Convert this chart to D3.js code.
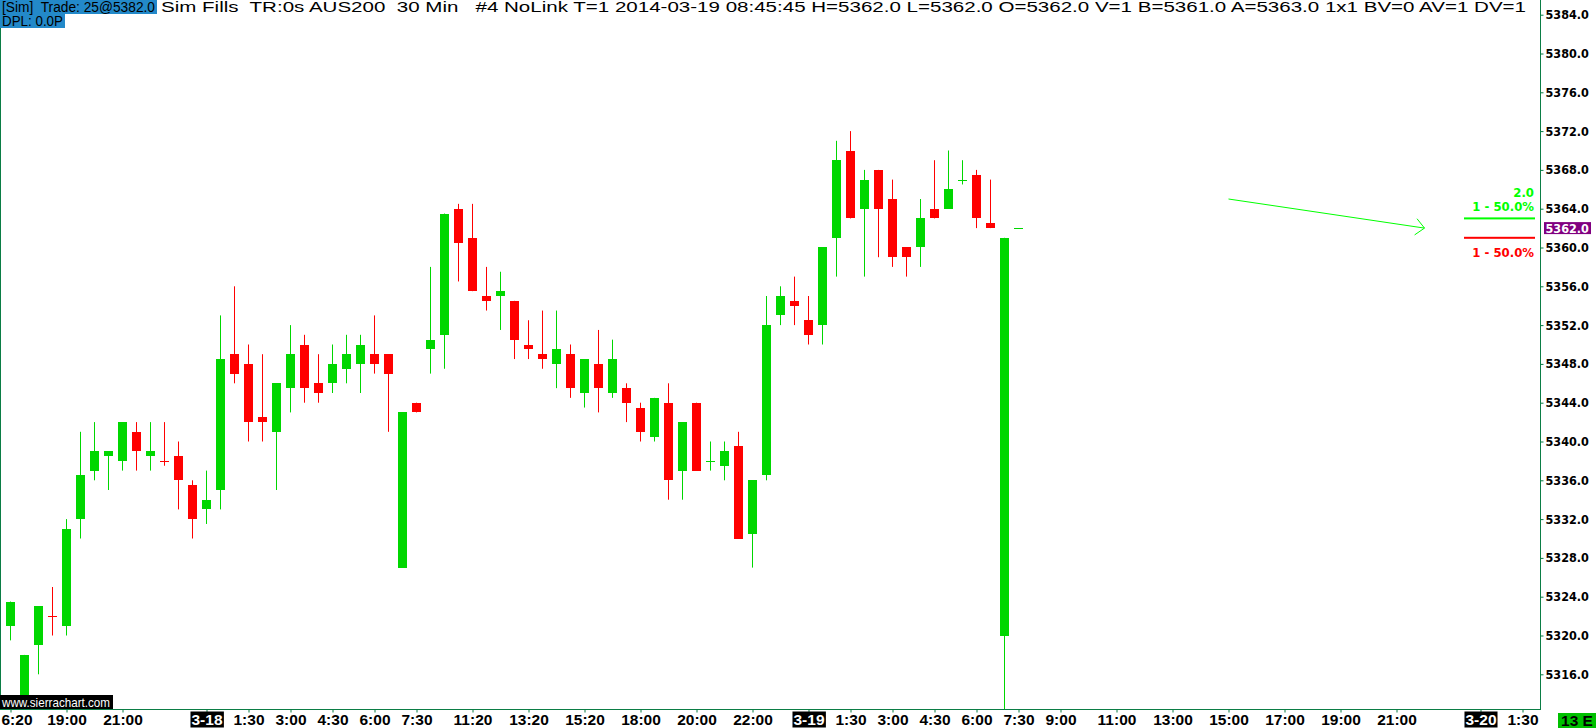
<!DOCTYPE html>
<html><head><meta charset="utf-8">
<script src="https://cdn.jsdelivr.net/npm/d3@7"></script>
<style>
html,body{margin:0;padding:0;background:#fff;overflow:hidden}
svg{display:block}
text{white-space:pre}
</style></head><body>
<svg id="c" width="1596" height="728"></svg>
<script>
// ---- data (AUS200, 30 Min bars) ----
const opens  = [5321,5313,5319,5322,5321,5332,5337,5338.5,5338,5341,5338.5,5338,5338.5,5335.5,5333,5335,5349,5348,5342.5,5341,5345.5,5350,5346,5346,5347.5,5348,5349,5349,5327,5344,5349.5,5351,5364,5361,5355,5355,5354.5,5350,5349,5348,5349,5345,5348,5345,5345.5,5343.5,5340.5,5344,5337,5344,5338,5337.5,5339.5,5330.5,5336.5,5353,5354.5,5352.5,5352,5361,5370,5364,5368,5365,5360,5360,5364,5364,5367,5367.5,5362.5,5320,5362];
const highs  = [5323.5,5318,5323,5325,5332,5341,5342,5339,5342,5342,5342,5342,5340,5336,5337,5353,5356,5350,5349,5346,5352,5351,5349,5350,5351,5351,5353,5349,5343,5344,5358,5363.5,5364.5,5364.5,5358,5357.5,5354.5,5352.5,5353.5,5353.5,5350,5348.5,5351.5,5350.5,5346,5344,5344.5,5346,5342,5344,5340,5340,5341,5336,5355,5356,5357,5355,5360,5371,5372,5368,5368,5367,5360,5365,5369,5370,5369,5368,5367,5361,5362];
const lows   = [5319.5,5312,5316,5320,5320,5330,5336,5335,5337,5337,5337,5337.5,5333,5330,5331.5,5333,5346,5340,5340,5335,5343,5344,5344,5345,5346,5345,5347,5341,5327,5343,5347,5347.5,5356.5,5355.5,5353.5,5351.5,5348.5,5348.5,5347.5,5345.5,5344.5,5343.5,5343,5344.5,5342,5340,5340,5334,5334,5337,5337,5336,5330,5327,5336,5352,5352,5350,5350,5357,5363,5357,5359,5358,5357,5358,5363,5364,5366.5,5362,5362,5312,5362];
const closes = [5323.5,5318,5323,5322,5331,5336.5,5339,5339,5342,5339,5339,5338,5336,5332,5334,5348.5,5347,5342,5342,5346,5349,5345.5,5345,5348,5349,5350,5348,5347,5343,5343,5350.5,5363.5,5360.5,5355.5,5354.5,5355.5,5350.5,5349.5,5348.5,5349.5,5345.5,5348.5,5345.5,5348.5,5344,5341,5344.5,5336,5342,5337,5338,5339,5330,5336,5352,5355,5354,5351,5360,5369,5363,5367,5364,5359,5359,5363,5363,5366,5367,5363,5362,5361,5362];

const xTickIndex  = [0,4,8,14,17,20,23,26,29,33,37,41,45,49,53,57,60,63,66,69,72,75,79,83,87,91,95,99,105,108];
const xTickLabels = ["6:20","19:00","21:00","3-18","1:30","3:00","4:30","6:00","7:30","11:20","13:20","15:20","18:00","20:00","22:00","3-19","1:30","3:00","4:30","6:00","7:30","9:00","11:00","13:00","15:00","17:00","19:00","21:00","3-20","1:30"];
const yTickValues = [5316,5320,5324,5328,5332,5336,5340,5344,5348,5352,5356,5360,5364,5368,5372,5376,5380,5384];

const lastPrice = 5362.0;
const targetPrice = 5363.0, stopPrice = 5361.0;
const arrowFrom = {i:87, p:5365}, arrowTo = {i:101, p:5362};

const headerLine1a = "[Sim]  Trade: 25@5382.0";
const headerLine1b = "Sim Fills  TR:0s AUS200  30 Min   #4 NoLink T=1 2014-03-19 08:45:45 H=5362.0 L=5362.0 O=5362.0 V=1 B=5361.0 A=5363.0 1x1 BV=0 AV=1 DV=1";
const headerLine2 = "DPL: 0.0P";

// ---- layout ----
const W = 1596, H = 728;
const plotRight = 1540, plotBottom = 709;
const GREEN = "#00d700", RED = "#ff0000", FRAME = "#0b7d45";

const svg = d3.select("#c");
svg.append("rect").attr("width", W).attr("height", H).attr("fill", "#fff");

const x = d3.scaleLinear().domain([0, 108]).range([10.5, 1522.5]);
const y = d3.scaleLinear().domain([5316, 5384]).range([674.3, 14.7]);

svg.append("clipPath").attr("id", "plotClip").append("rect")
  .attr("x", 0).attr("y", 0).attr("width", plotRight).attr("height", plotBottom);

const plot = svg.append("g").attr("clip-path", "url(#plotClip)");

const bars = d3.range(opens.length).map(i => ({
  i, o: opens[i], h: highs[i], l: lows[i], c: closes[i],
  up: closes[i] > opens[i] ? true : closes[i] < opens[i] ? false : (i === 0 || closes[i] >= closes[i-1])
}));

const bw = 9;
const cg = plot.append("g");
cg.selectAll("rect.wick").data(bars).join("rect").attr("class", "wick")
  .attr("x", d => x(d.i) - 0.5).attr("width", 1)
  .attr("y", d => y(d.h)).attr("height", d => Math.max(0, y(d.l) - y(d.h)))
  .attr("fill", d => d.up ? GREEN : RED);
cg.selectAll("rect.body").data(bars).join("rect").attr("class", "body")
  .attr("x", d => x(d.i) - bw / 2).attr("width", bw)
  .attr("y", d => Math.round(y(Math.max(d.o, d.c))))
  .attr("height", d => Math.max(1, Math.round(y(Math.min(d.o, d.c))) - Math.round(y(Math.max(d.o, d.c)))))
  .attr("fill", d => d.up ? GREEN : RED);

// arrow annotation
const ax1 = x(arrowFrom.i), ay1 = y(arrowFrom.p), ax2 = x(arrowTo.i), ay2 = y(arrowTo.p);
const ang = Math.atan2(ay2 - ay1, ax2 - ax1);
const ag = plot.append("g").attr("stroke", "#00ff00").attr("stroke-width", 1).attr("fill", "none");
ag.append("line").attr("x1", ax1).attr("y1", ay1).attr("x2", ax2).attr("y2", ay2);
[ang + Math.PI - 0.75, ang + Math.PI + 0.75].forEach(a => {
  ag.append("line").attr("x1", ax2).attr("y1", ay2)
    .attr("x2", ax2 + 12 * Math.cos(a)).attr("y2", ay2 + 12 * Math.sin(a));
});

// target / stop lines
const tl = svg.append("g");
tl.append("rect").attr("x", 1464).attr("width", 71).attr("y", y(targetPrice) - 1).attr("height", 2).attr("fill", "#00ff00");
tl.append("rect").attr("x", 1464).attr("width", 71).attr("y", y(stopPrice) - 1).attr("height", 2).attr("fill", "#ff0000");
const tf = "DejaVu Sans Condensed, sans-serif";
tl.append("text").attr("x", 1534).attr("y", y(targetPrice) - 26).attr("text-anchor", "end").attr("dominant-baseline", "central")
  .attr("font-family", tf).attr("font-weight", "bold").attr("font-size", 13).attr("fill", "#00ff00").text("2.0");
tl.append("text").attr("x", 1534).attr("y", y(targetPrice) - 12).attr("text-anchor", "end").attr("dominant-baseline", "central")
  .attr("font-family", tf).attr("font-weight", "bold").attr("font-size", 13).attr("fill", "#00ff00").text("1 - 50.0%");
tl.append("text").attr("x", 1534).attr("y", y(stopPrice) + 15).attr("text-anchor", "end").attr("dominant-baseline", "central")
  .attr("font-family", tf).attr("font-weight", "bold").attr("font-size", 13).attr("fill", "#ff0000").text("1 - 50.0%");

// frame
svg.append("rect").attr("x", 0).attr("y", 0).attr("width", 1).attr("height", plotBottom).attr("fill", FRAME);
svg.append("rect").attr("x", plotRight).attr("y", 0).attr("width", 1).attr("height", plotBottom + 1).attr("fill", FRAME);
svg.append("rect").attr("x", 0).attr("y", plotBottom).attr("width", plotRight + 1).attr("height", 1).attr("fill", FRAME);

// y axis
const yAxis = d3.axisRight(y).tickValues(yTickValues).tickFormat(d => d.toFixed(1)).tickSize(3).tickPadding(2);
const yg = svg.append("g").attr("transform", `translate(${plotRight + 0.5},0)`).call(yAxis);
yg.select(".domain").remove();
yg.selectAll(".tick line").attr("stroke", FRAME);
yg.selectAll(".tick text").attr("font-family", tf).attr("font-weight", "bold").attr("font-size", 12.5).attr("fill", "#000");

// last price box
const lp = svg.append("g");
lp.append("rect").attr("x", 1544).attr("y", y(lastPrice) - 6).attr("width", 47).attr("height", 12).attr("fill", "#800080");
lp.append("text").attr("x", 1545.5).attr("y", y(lastPrice)).attr("dominant-baseline", "central")
  .attr("font-family", tf).attr("font-weight", "bold").attr("font-size", 12.5).attr("fill", "#fff").text(lastPrice.toFixed(1));

// x axis
const xf = "Liberation Sans Narrow, sans-serif";
const xAxis = d3.axisBottom(x).tickValues(xTickIndex).tickFormat((d, k) => xTickLabels[k]).tickSize(3).tickPadding(3);
const xg = svg.append("g").attr("transform", `translate(0,${plotBottom + 0.5})`).call(xAxis);
xg.select(".domain").remove();
xg.selectAll(".tick line").attr("stroke", FRAME);
xg.selectAll(".tick text").attr("font-family", xf).attr("font-weight", "bold").attr("font-size", 15.5).attr("fill", "#000")
  .attr("dy", null).attr("y", 9.5).attr("dominant-baseline", "central");
xg.selectAll(".tick").each(function(d, k) {
  const t = d3.select(this).select("text");
  const bb = t.node().getBBox();
  const tx = x(d) + bb.x;
  if (tx < 1) t.attr("x", 1 - tx);
  if (xTickLabels[k].includes("-")) {
    d3.select(this).insert("rect", "text").attr("x", bb.x - 1).attr("y", 2).attr("width", bb.width + 2).attr("height", 16).attr("fill", "#000");
    t.attr("fill", "#fff");
  }
});

// bottom-right box
svg.append("rect").attr("x", 1558).attr("y", 713).attr("width", 38).attr("height", 15).attr("fill", "#00c000");
svg.append("text").attr("x", 1577).attr("y", 720.5).attr("text-anchor", "middle").attr("dominant-baseline", "central")
  .attr("font-family", xf).attr("font-weight", "bold").attr("font-size", 15.5).attr("fill", "#000").text("13 E");

// watermark
svg.append("rect").attr("x", 0).attr("y", 695).attr("width", 113).attr("height", 14).attr("fill", "#000");
svg.append("text").attr("x", 2).attr("y", 702).attr("dominant-baseline", "central")
  .attr("font-family", xf).attr("font-size", 13).attr("fill", "#fff").attr("textLength", 108).attr("lengthAdjust", "spacingAndGlyphs").text("www.sierrachart.com");

// header
const hf = "Liberation Sans Narrow, sans-serif";
svg.append("rect").attr("x", 0).attr("y", 0).attr("width", 157).attr("height", 14).attr("fill", "#2389c9");
svg.append("rect").attr("x", 0).attr("y", 14).attr("width", 65).attr("height", 14).attr("fill", "#2389c9");
svg.append("text").attr("x", 2).attr("y", 7).attr("dominant-baseline", "central").attr("font-family", hf).attr("font-size", 14)
  .attr("fill", "#000").attr("textLength", 153).attr("lengthAdjust", "spacingAndGlyphs").text(headerLine1a);
svg.append("text").attr("x", 161).attr("y", 7).attr("dominant-baseline", "central").attr("font-family", hf).attr("font-size", 14)
  .attr("fill", "#000").attr("textLength", 1365).attr("lengthAdjust", "spacingAndGlyphs").text(headerLine1b);
svg.append("text").attr("x", 2).attr("y", 21).attr("dominant-baseline", "central").attr("font-family", hf).attr("font-size", 14)
  .attr("fill", "#000").attr("textLength", 61).attr("lengthAdjust", "spacingAndGlyphs").text(headerLine2);
</script>
</body></html>
